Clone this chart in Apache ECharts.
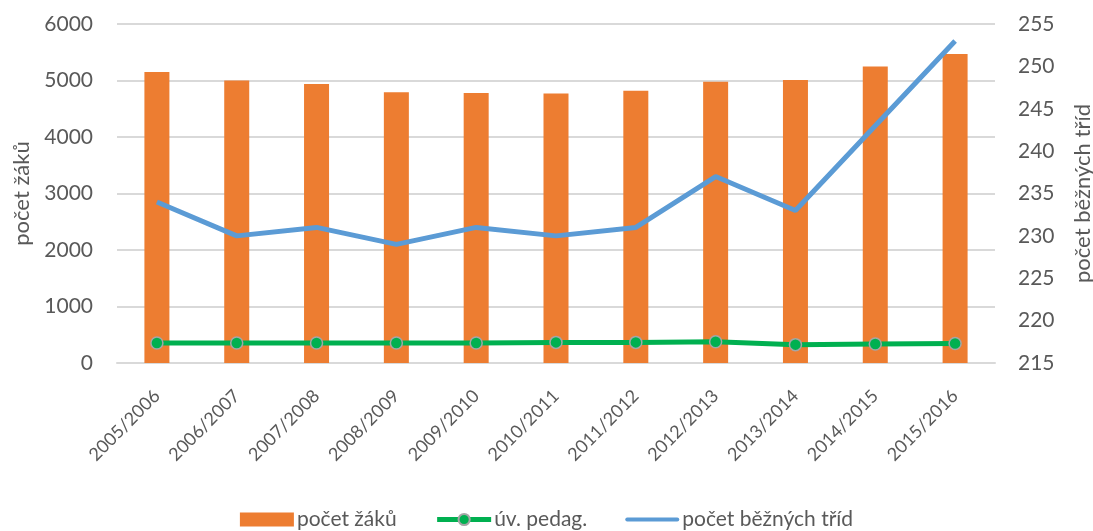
<!DOCTYPE html>
<html>
<head>
<meta charset="utf-8">
<script src="https://cdn.jsdelivr.net/npm/echarts@6/dist/echarts.min.js"></script>
<style>
  html, body { margin: 0; padding: 0; background: #fff; }
  #chart { width: 1093px; height: 531px; }
</style>
</head>
<body>
<div id="chart"></div>
<script>
// skolni roky
var years = ['2005/2006', '2006/2007', '2007/2008', '2008/2009', '2009/2010', '2010/2011',
  '2011/2012', '2012/2013', '2013/2014', '2014/2015', '2015/2016'];
var pocetZaku = [5150, 5000, 4940, 4790, 4780, 4770, 4820, 4980, 5010, 5250, 5470];
var uvPedag = [355, 355, 355, 355, 355, 365, 365, 375, 325, 335, 345];
var pocetTrid = [234, 230, 231, 229, 231, 230, 231, 237, 233, 243, 253];

var txt = '#595959';
var font = 'Lato, "Open Sans", sans-serif';

var myChart = echarts.init(document.getElementById('chart'));
var option = {
  textStyle: { fontFamily: font, color: txt },
  grid: { left: 117, right: 98, top: 24, bottom: 168, containLabel: false, outerBoundsMode: 'none' },
  legend: {
    bottom: -4,
    left: 'center',
    itemWidth: 54,
    itemHeight: 14,
    itemGap: 38,
    textStyle: { fontSize: 21, color: txt, fontFamily: font, padding: [0, 0, 0, -2] },
    data: [
      { name: 'počet žáků', icon: 'rect' },
      { name: 'úv. pedag.', lineStyle: { width: 5 } },
      { name: 'počet běžných tříd', icon: 'path://M2,0 L52,0 A2,2 0 0 1 52,4 L2,4 A2,2 0 0 1 2,0 Z' }
    ]
  },
  xAxis: {
    type: 'category',
    data: years,
    axisLine: { show: true, lineStyle: { color: '#d9d9d9', width: 2 } },
    axisTick: { show: false },
    axisLabel: { rotate: 45, margin: 30, fontSize: 18, color: txt, fontFamily: font, interval: 0 }
  },
  yAxis: [
    {
      type: 'value',
      min: 0, max: 6000, interval: 1000,
      name: 'počet žáků',
      nameLocation: 'middle',
      nameRotate: 90,
      nameGap: 80,
      nameTextStyle: { fontSize: 22, color: txt, fontFamily: font },
      axisLine: { show: false },
      axisTick: { show: false },
      axisLabel: { margin: 24, fontSize: 21, color: txt, fontFamily: font,
        formatter: function (v) { return String(v); } },
      splitLine: { lineStyle: { color: '#d9d9d9', width: 2 } }
    },
    {
      type: 'value',
      min: 215, max: 255, interval: 5,
      name: 'počet běžných tříd',
      nameLocation: 'middle',
      nameRotate: 90,
      nameGap: 77,
      nameTextStyle: { fontSize: 22, color: txt, fontFamily: font },
      axisLine: { show: false },
      axisTick: { show: false },
      axisLabel: { margin: 23, fontSize: 21, color: txt, fontFamily: font },
      splitLine: { show: false }
    }
  ],
  series: [
    {
      name: 'počet žáků',
      type: 'bar',
      data: pocetZaku,
      barWidth: 25,
      itemStyle: { color: '#ED7D31' }
    },
    {
      name: 'úv. pedag.',
      type: 'line',
      data: uvPedag,
      symbol: 'circle',
      symbolSize: 12,
      lineStyle: { color: '#00B050', width: 5 },
      itemStyle: { color: '#00B050', borderColor: '#a5a5a5', borderWidth: 1.5 },
      z: 3
    },
    {
      name: 'počet běžných tříd',
      type: 'line',
      yAxisIndex: 1,
      data: pocetTrid,
      symbol: 'none',
      lineStyle: { color: '#5B9BD5', width: 5 },
      itemStyle: { color: '#5B9BD5' },
      z: 4
    }
  ]
};
myChart.setOption(option);
</script>
</body>
</html>
